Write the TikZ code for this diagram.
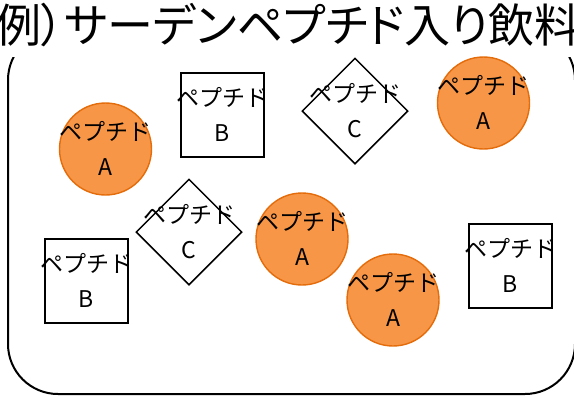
\documentclass[tikz,border=0pt]{standalone}
\usepackage{fontspec}
\setmainfont{Noto Sans CJK JP}
\newfontfamily\titlefont[RawFeature=+palt]{Noto Sans CJK JP}
\usetikzlibrary{shapes.geometric}
\definecolor{pepOrange}{RGB}{247,150,70}
\definecolor{pepEdge}{RGB}{228,108,10}
\begin{document}
\begin{tikzpicture}[x=1pt,y=-1pt,
  pepA/.style={circle, minimum size=92pt, inner sep=0pt, fill=pepOrange, draw=pepEdge, line width=1.4pt},
  pepB/.style={rectangle, minimum width=83pt, minimum height=84pt, inner sep=0pt, draw=black, line width=1.5pt},
  pepC/.style={diamond, minimum width=106pt, minimum height=106pt, inner sep=0pt, draw=black, line width=1.5pt},
  pepTop/.style={anchor=base, inner sep=0pt, font=\fontsize{23}{23}\selectfont, yshift=9pt},
  pepBot/.style={anchor=base, inner sep=0pt, font=\fontsize{23}{23}\selectfont, yshift=-26pt},
]
\useasboundingbox (0,0) rectangle (574,397);
% frame
\begin{scope}
  \clip (0,57) rectangle (574,397);
  \node[draw=black, line width=2pt, rounded corners=50pt, minimum width=567pt, minimum height=364pt, inner sep=0pt] (frame) at (291.5,212) {};
\end{scope}
% title
\node[anchor=base west, inner sep=0pt, font=\titlefont\fontsize{46}{46}\selectfont] (title) at (-5,42) {例）サーデンペプチド入り飲料};
% shapes
\node[pepA] (a1) at (105.5,149) {};
\node[pepA] (a2) at (483.5,103) {};
\node[pepA] (a3) at (302,239) {};
\node[pepA] (a4) at (393,300) {};
\node[pepB] (b1) at (222.5,115) {};
\node[pepB] (b2) at (86.5,281) {};
\node[pepB] (b3) at (510.5,266) {};
\node[pepC] (c1) at (355,111) {};
\node[pepC] (c2) at (189,232) {};
% labels
\foreach \n/\l in {a1/A,a2/A,a3/A,a4/A,b1/B,b2/B,b3/B,c1/C,c2/C}{
  \node[pepTop] (\n-top) at (\n) {ペプチド};
  \node[pepBot] (\n-bot) at (\n) {\l};
}
\end{tikzpicture}
\end{document}
